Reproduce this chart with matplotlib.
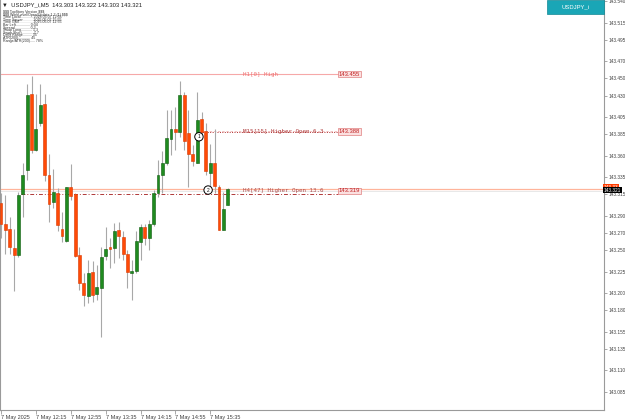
import matplotlib
matplotlib.use("Agg")
import matplotlib.pyplot as plt
from matplotlib.patches import Rectangle
import pandas as pd

plt.rcParams["font.family"] = ["Liberation Sans", "DejaVu Sans"]

# USDJPY_i M5, 7 May 2025 from 11:35
opens = [143.305, 143.281, 143.275, 143.253, 143.244, 143.315, 143.343, 143.432, 143.367, 143.398,
         143.420, 143.337, 143.306, 143.317, 143.275, 143.261, 143.323, 143.315, 143.244, 143.212,
         143.197, 143.225, 143.199, 143.206, 143.243, 143.254, 143.253, 143.273, 143.265, 143.246,
         143.224, 143.226, 143.260, 143.277, 143.264, 143.281, 143.316, 143.337, 143.352, 143.379,
         143.391, 143.387, 143.431, 143.386, 143.362, 143.352, 143.403, 143.389, 143.340, 143.352,
         143.324, 143.274, 143.303]
highs = [143.316, 143.314, 143.289, 143.275, 143.318, 143.351, 143.444, 143.453, 143.432, 143.443,
         143.432, 143.362, 143.345, 143.322, 143.295, 143.324, 143.350, 143.316, 143.254, 143.223,
         143.239, 143.237, 143.233, 143.254, 143.277, 143.264, 143.282, 143.283, 143.272, 143.250,
         143.239, 143.272, 143.281, 143.281, 143.285, 143.320, 143.355, 143.365, 143.413, 143.413,
         143.417, 143.447, 143.434, 143.413, 143.372, 143.434, 143.411, 143.398, 143.374, 143.391,
         143.326, 143.318, 143.322]
lows = [143.264, 143.246, 143.246, 143.202, 143.242, 143.289, 143.332, 143.363, 143.365, 143.395,
        143.330, 143.283, 143.299, 143.272, 143.260, 143.260, 143.308, 143.242, 143.204, 143.185,
        143.188, 143.190, 143.192, 143.149, 143.239, 143.229, 143.235, 143.241, 143.239, 143.206,
        143.192, 143.223, 143.239, 143.256, 143.250, 143.278, 143.312, 143.316, 143.349, 143.361,
        143.367, 143.382, 143.367, 143.324, 143.348, 143.351, 143.382, 143.337, 143.320, 143.316,
        143.273, 143.273, 143.303]
closes = [143.281, 143.274, 143.254, 143.244, 143.314, 143.337, 143.431, 143.367, 143.391, 143.419,
          143.337, 143.304, 143.318, 143.279, 143.266, 143.323, 143.313, 143.243, 143.212, 143.198,
          143.223, 143.198, 143.207, 143.242, 143.251, 143.251, 143.272, 143.266, 143.245, 143.225,
          143.226, 143.261, 143.277, 143.264, 143.281, 143.317, 143.338, 143.351, 143.380, 143.391,
          143.387, 143.431, 143.377, 143.362, 143.354, 143.401, 143.388, 143.342, 143.352, 143.325,
          143.274, 143.298, 143.321]

times = pd.date_range("2025-05-07 11:35", periods=len(opens), freq="5min")

price_ticks = [143.540, 143.515, 143.495, 143.470, 143.450, 143.430, 143.405, 143.385, 143.360,
               143.335, 143.315, 143.290, 143.270, 143.250, 143.225, 143.200, 143.180, 143.155,
               143.135, 143.110, 143.085]

# levels drawn by the indicator
level_names = ["H1[0] High", "M15[15] Higher Open 6.3", "H4[47] Higher Open 13.6"]
level_prices = [143.455, 143.388, 143.319]
bid = 143.321

# numbered signals (bar index, price)
signal_bars = [45.4, 47.5]
signal_prices = [143.382, 143.320]

fig = plt.figure(figsize=(6.25, 4.2), dpi=100)
ax = fig.add_axes([0, 10 / 420, 604 / 625, 410 / 420])
ax.set_facecolor("white")

green, green_edge = "#1f8b1f", "#0d5a0d"
orange, orange_edge = "#ff4a06", "#d83800"

for i in range(len(opens)):
    o, h, l, c = opens[i], highs[i], lows[i], closes[i]
    ax.vlines(i, l, h, color="#a8a8a8", lw=0.8, zorder=2)
    up = c >= o
    body = max(abs(c - o), 0.0008)
    ax.bar(i, body, bottom=min(o, c), width=0.66,
           color=green if up else orange,
           edgecolor=green_edge if up else orange_edge, lw=0.4, zorder=3)

ax.set_xlim(-0.23, 138.3)
ax.set_ylim(143.0640, 143.5412)

# level lines
ax.axhline(level_prices[0], 0, 358 / 604, color="#f6a8a8", lw=0.8, zorder=1)
ax.axhline(level_prices[1] + 0.001, 205 / 604, 360 / 604, color="#f0b8b8", lw=0.6,
           ls=(0, (3, 2)), zorder=1)
ax.axhline(level_prices[1], 200 / 604, 338 / 604, color="#b02a2a", lw=0.7,
           ls=(0, (1, 1.5)), zorder=1)
ax.axhline(level_prices[2] - 0.004, 21 / 604, 338 / 604, color="#b03838", lw=0.7,
           ls=(0, (4, 2, 1, 2)), zorder=1)
ax.axhline(bid, 0, 1, color="#ffb49a", lw=0.9, zorder=1)
ax.axhline(bid - 0.002, 0, 1, color="#e4e4e4", lw=0.6, zorder=1)

label_colors = ["#f07070", "#b04040", "#b05050"]
trans = ax.get_yaxis_transform()
for name, p, col in zip(level_names, level_prices, label_colors):
    ax.text(243 / 604, p, name, transform=trans, fontsize=4.2, color=col,
            family="DejaVu Sans Mono", va="center", ha="left", zorder=4)
    ax.text(339 / 604, p, f"{p:.3f}", transform=trans, fontsize=4.2, color="#c02020",
            va="center", ha="left", zorder=4,
            bbox=dict(boxstyle="square,pad=0.15", fc="#fbe0e0", ec="#e08080", lw=0.5))

for n, (b, p) in enumerate(zip(signal_bars, signal_prices), start=1):
    ax.text(b, p, str(n), fontsize=3.5, ha="center", va="center", zorder=5,
            bbox=dict(boxstyle="circle,pad=0.35", fc="white", ec="black", lw=0.7))

# axes look
ax.spines["top"].set_visible(False)
for s in ["left", "right", "bottom"]:
    ax.spines[s].set_color("#9a9a9a")
    ax.spines[s].set_linewidth(0.8)

ax.yaxis.tick_right()
ax.set_yticks(price_ticks)
ax.set_yticklabels([f"{t:.3f}" for t in price_ticks])
ax.tick_params(axis="y", labelsize=3.4, colors="#9a9a9a", labelcolor="#404040",
               length=2, width=0.6, pad=1)

xt = list(range(0, len(opens), 8))
xl = ["7 May 2025"] + [f"7 May {times[i]:%H:%M}" for i in xt[1:]]
ax.set_xticks(xt)
ax.set_xticklabels(xl, ha="left")
ax.tick_params(axis="x", labelsize=4, colors="#9a9a9a", labelcolor="#404040",
               length=3, width=0.6, pad=0.5)

# price labels on the scale
ax.text(1.0, bid + 0.0025, "143.33", transform=trans, fontsize=3.4, color="white",
        va="center", ha="left", zorder=6, clip_on=False,
        bbox=dict(boxstyle="square,pad=0.15", fc="#ff3c00", ec="none"))
ax.text(1.0, bid - 0.001, f"{bid:.3f}", transform=trans, fontsize=3.4, color="white",
        va="center", ha="left", zorder=7, clip_on=False,
        bbox=dict(boxstyle="square,pad=0.2", fc="black", ec="none"))

# header text
fig.text(2 / 625, 1 - 5 / 420, "\u25bc  USDJPY_i,M5  143.303 143.322 143.303 143.321",
         fontsize=4.2, color="#202020", va="center")
info = ["$$$ TopStory Version $$$",
        "$$$ WorkLevel/Open/Update 1.2 (1) $$$",
        "Time Local............ 2025.05.07 12:55",
        "Time Server.......... 2025.05.07 15:55",
        "Time GMT............. 2025.05.07 12:55",
        "Bar Left.............. 0:04",
        "Spread............... 0.3",
        "Swap Long........... 1.3",
        "Swap Short.......... -7.7",
        "Daily Range......... 35",
        "ATR(200)............ 45",
        "Range/ATR(200)..... 78%"]
for k, line in enumerate(info):
    fig.text(3 / 625, 1 - (12 + k * 2.6) / 420, line, fontsize=2.6, color="#303030",
             va="center", parse_math=False)

# symbol button
fig.patches.append(Rectangle((547 / 625, 1 - 14 / 420), 57 / 625, 14 / 420,
                             transform=fig.transFigure, fc="#1aa6b6", ec="#128894", lw=0.5))
fig.text(575 / 625, 1 - 7 / 420, "USDJPY_i", fontsize=4.2, color="white",
         ha="center", va="center")

fig.savefig("out.png", dpi=100)
